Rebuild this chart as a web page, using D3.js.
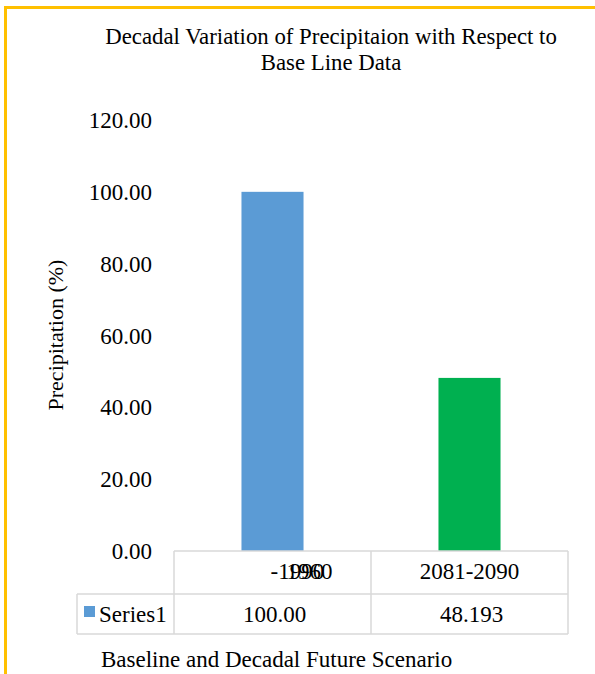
<!DOCTYPE html>
<html><head><meta charset="utf-8">
<script src="https://cdn.jsdelivr.net/npm/d3@7"></script>
<style>html,body{margin:0;padding:0;background:#fff;}svg{display:block;}</style>
</head><body>
<script>
const categories = ["1960-1990", "2081-2090"];
const categoryLabelParts = [["-1990", "1960"], ["2081-2090"]];
const seriesName = "Series1";
const values = [100.00, 48.193];
const valueLabels = ["100.00", "48.193"];
const barColors = ["#5B9BD5", "#00B050"];
const yTicks = [0, 20, 40, 60, 80, 100, 120];
const titleLines = ["Decadal Variation of Precipitaion with Respect to", "Base Line Data"];
const yTitle = "Precipitation (%)";
const xTitle = "Baseline and Decadal Future Scenario";

const W = 595, H = 674;
const font = "'Liberation Serif','Times New Roman',serif";
const svg = d3.select("body").append("svg").attr("width", W).attr("height", H)
  .style("font-family", font);

svg.append("rect").attr("x", 5.5).attr("y", 7.5).attr("width", W + 10).attr("height", H + 10)
  .attr("fill", "#fff").attr("stroke", "#FFC000").attr("stroke-width", 3);

// title
svg.selectAll("text.title").data(titleLines).join("text")
  .attr("x", 331).attr("y", (d, i) => 44 + i * 26)
  .attr("text-anchor", "middle").attr("font-size", 22.8).attr("fill", "#000")
  .text(d => d);

const x = d3.scaleBand().domain(categories).range([174, 568]);
const y = d3.scaleLinear().domain([0, 120]).range([551, 120]);
const barW = x.bandwidth() * 0.315;

// y axis labels
const yAxis = d3.axisLeft(y).tickValues(yTicks).tickFormat(d3.format(".2f")).tickSize(0).tickPadding(0);
const gy = svg.append("g").attr("transform", "translate(152,0)").call(yAxis);
gy.select(".domain").remove();
gy.selectAll("text").attr("font-size", 23).attr("font-family", font).attr("fill", "#000").attr("dy", "0.33em");

// y title
svg.append("text").attr("transform", "translate(63,335) rotate(-90)")
  .attr("text-anchor", "middle").attr("font-size", 22).attr("fill", "#000").text(yTitle);

// bars
svg.selectAll("rect.bar").data(values).join("rect")
  .attr("x", (d, i) => x(categories[i]) + x.bandwidth() / 2 - barW / 2)
  .attr("width", barW)
  .attr("y", d => y(d))
  .attr("height", d => y(0) - y(d))
  .attr("fill", (d, i) => barColors[i]);

// data table
const tblTop = 551, rowMid = 594, tblBot = 634, legLeft = 77;
const grid = "#D9D9D9";
const lines = [
  [x.range()[0], tblTop, x.range()[1], tblTop],
  [legLeft, rowMid, x.range()[1], rowMid],
  [legLeft, tblBot, x.range()[1], tblBot],
  [legLeft, rowMid, legLeft, tblBot],
  [x.range()[0], tblTop, x.range()[0], tblBot],
  [x(categories[1]), tblTop, x(categories[1]), tblBot],
  [x.range()[1], tblTop, x.range()[1], tblBot]
];
svg.selectAll("line.grid").data(lines).join("line")
  .attr("x1", d => d[0]).attr("y1", d => d[1]).attr("x2", d => d[2]).attr("y2", d => d[3])
  .attr("stroke", grid).attr("stroke-width", 1.5);

// category labels (first one overlaps as in the original)
const c0 = x(categories[0]) + x.bandwidth() / 2;
svg.append("text").attr("x", c0 - 2).attr("y", 579).attr("font-size", 23).text(categoryLabelParts[0][0]);
svg.append("text").attr("x", c0 + 14).attr("y", 579).attr("font-size", 23).text(categoryLabelParts[0][1]);
svg.append("text").attr("x", x(categories[1]) + x.bandwidth() / 2).attr("y", 579)
  .attr("text-anchor", "middle").attr("font-size", 23).text(categoryLabelParts[1][0]);

// values row
svg.selectAll("text.val").data(valueLabels).join("text")
  .attr("x", (d, i) => x(categories[i]) + x.bandwidth() / 2 + 2).attr("y", 622)
  .attr("text-anchor", "middle").attr("font-size", 23).text(d => d);

// legend key
svg.append("rect").attr("x", 84).attr("y", 606).attr("width", 11).attr("height", 11).attr("fill", barColors[0]);
svg.append("text").attr("x", 99).attr("y", 622).attr("font-size", 23).text(seriesName);

// x title
svg.append("text").attr("x", 101).attr("y", 667).attr("font-size", 23).text(xTitle);
</script>
</body></html>
